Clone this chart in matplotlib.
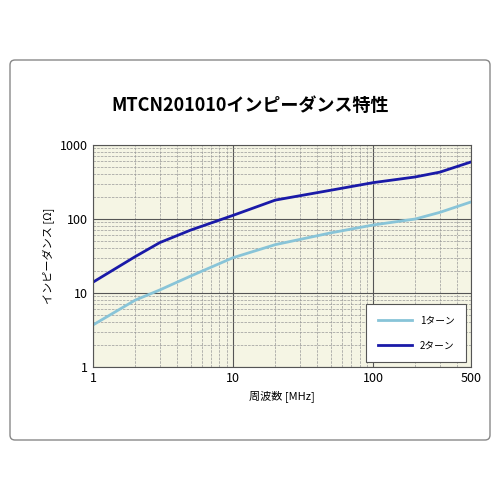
import matplotlib.pyplot as plt
from matplotlib.patches import FancyBboxPatch

plt.rcParams['font.family'] = ['Noto Sans CJK JP', 'DejaVu Sans']

freq = [1, 2, 3, 5, 10, 20, 50, 100, 200, 300, 500]
z_1turn = [3.7, 8, 11, 17, 30, 45, 65, 83, 100, 123, 170]
z_2turn = [14, 31, 48, 71, 112, 180, 245, 310, 370, 430, 590]

fig = plt.figure(figsize=(5, 5), dpi=100)
frame = FancyBboxPatch((0.02, 0.12), 0.96, 0.76, boxstyle='round,pad=0,rounding_size=0.01',
                       transform=fig.transFigure, fill=False, edgecolor='#888888', lw=1)
fig.patches.append(frame)
fig.text(0.5, 0.79, 'MTCN201010インピーダンス特性', fontsize=13, fontweight='bold',
         ha='center', va='center')

ax = fig.add_axes([0.186, 0.266, 0.756, 0.444])
ax.set_facecolor('#f5f5e4')
ax.plot(freq, z_1turn, color='#88c4d8', lw=2, label='1ターン')
ax.plot(freq, z_2turn, color='#1a1aa8', lw=2, label='2ターン')
ax.set_xscale('log'); ax.set_yscale('log')
ax.set_xlim(1, 500); ax.set_ylim(1, 1000)
ax.set_xticks([1, 10, 100, 500]); ax.set_xticklabels(['1', '10', '100', '500'])
ax.set_yticks([1, 10, 100, 1000]); ax.set_yticklabels(['1', '10', '100', '1000'])
ax.tick_params(which='both', length=0, labelsize=9)
ax.grid(which='major', color='#555555', lw=0.8)
ax.grid(which='minor', color='#999999', lw=0.5, ls='--')
for s in ax.spines.values():
    s.set_color('#555555')
ax.set_xlabel('周波数 [MHz]', fontsize=8)
ax.set_ylabel('インピーダンス [Ω]', fontsize=8)
leg = ax.legend(loc='lower right', fontsize=7, fancybox=False, framealpha=1,
                edgecolor='#555555', borderpad=1.2, labelspacing=1.5, handlelength=3.5)
leg.get_frame().set_linewidth(0.8)

fig.savefig('out.png', dpi=100)
